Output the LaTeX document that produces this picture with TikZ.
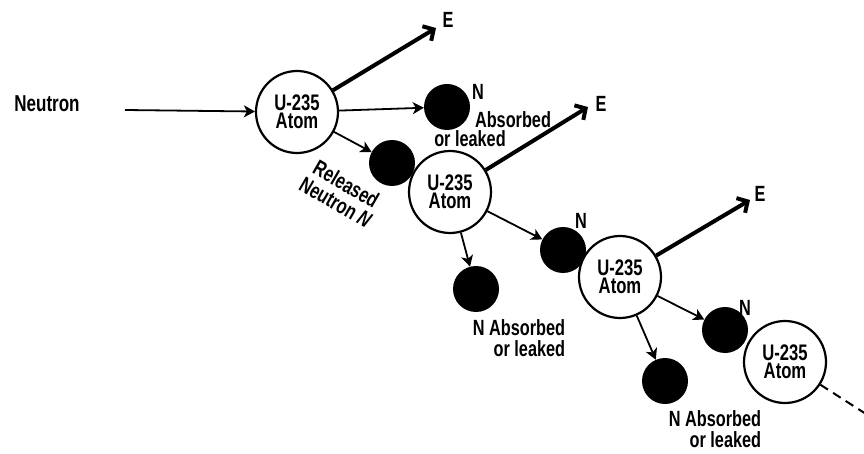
\documentclass[tikz,border=0pt]{standalone}
\usepackage{fontspec}
\setmainfont{Liberation Sans}[FakeStretch=0.74]
\usetikzlibrary{arrows.meta}
\begin{document}
\begin{tikzpicture}[x=1pt,y=-1pt,
  atom/.style={circle,draw,line width=2.2pt,fill=white,minimum size=82pt,inner sep=0pt,align=center,font=\fontsize{22.5}{18}\selectfont\bfseries},
  ball/.style={circle,fill=black,minimum size=46pt,inner sep=0pt},
  lbl/.style={font=\fontsize{22}{21}\selectfont\bfseries,inner sep=0pt},
  thinarrow/.style={line width=1.8pt,-{Stealth[length=11pt,width=12pt,inset=3pt]}},
  earrow/.style={line width=4pt,-{Straight Barb[length=8pt,width=17pt]}}]
\useasboundingbox (0,0) rectangle (864,454);
% neutrons (balls)
\node[ball] (n1) at (447,107) {};
\node[ball] (n2) at (392,163) {};
\node[ball] (n3) at (476,289) {};
\node[ball] (n4) at (563,250) {};
\node[ball] (n5) at (665,381) {};
\node[ball] (n6) at (725,330) {};
% atoms
\node[atom] (a1) at (297,112) {U-235\\Atom};
\node[atom] (a2) at (450,192) {U-235\\Atom};
\node[atom] (a3) at (620,277) {U-235\\Atom};
\node[atom] (a4) at (785,362) {U-235\\Atom};
% free ends
\coordinate (s) at (125,110);
\coordinate (e1) at (436,28);
\coordinate (e2) at (588,107);
\coordinate (e3) at (750,200);
\coordinate (d) at (866,414);
% labels
\node[lbl,font=\fontsize{23}{20}\selectfont\bfseries] (tneutron) at (47,104) {Neutron};
\node[lbl] (te1) at (448,20) {E};
\node[lbl] (te2) at (601,104) {E};
\node[lbl] (te3) at (760,194) {E};
\node[lbl] (tn1) at (478,92) {N};
\node[lbl] (tab1) at (513,120) {Absorbed};
\node[lbl] (tol1) at (470,139) {or leaked};
\node[lbl] (tn4) at (581,221) {N};
\node[lbl] (tn6) at (745,308) {N};
\node[lbl,align=right] (tab3) at (519,338) {N Absorbed\\or leaked};
\node[lbl,align=right] (tab5) at (715,429) {N Absorbed\\or leaked};
\node[lbl,align=center,rotate=-30] (trel) at (341,193) {Released\\Neutron \textit{N}};
% connectors
\draw[thinarrow] (s) -- (a1);
\draw[earrow] (a1) -- (e1);
\draw[thinarrow] (a1) -- (n1);
\draw[thinarrow] (a1) -- (n2);
\draw[earrow] (a2) -- (e2);
\draw[thinarrow] (a2) -- (n3);
\draw[thinarrow] (a2) -- (n4);
\draw[earrow] (a3) -- (e3);
\draw[thinarrow] (a3) -- (n5);
\draw[thinarrow] (a3) -- (n6);
\draw[line width=2pt,dash pattern=on 9pt off 6pt] (a4) -- (d);
\end{tikzpicture}
\end{document}
